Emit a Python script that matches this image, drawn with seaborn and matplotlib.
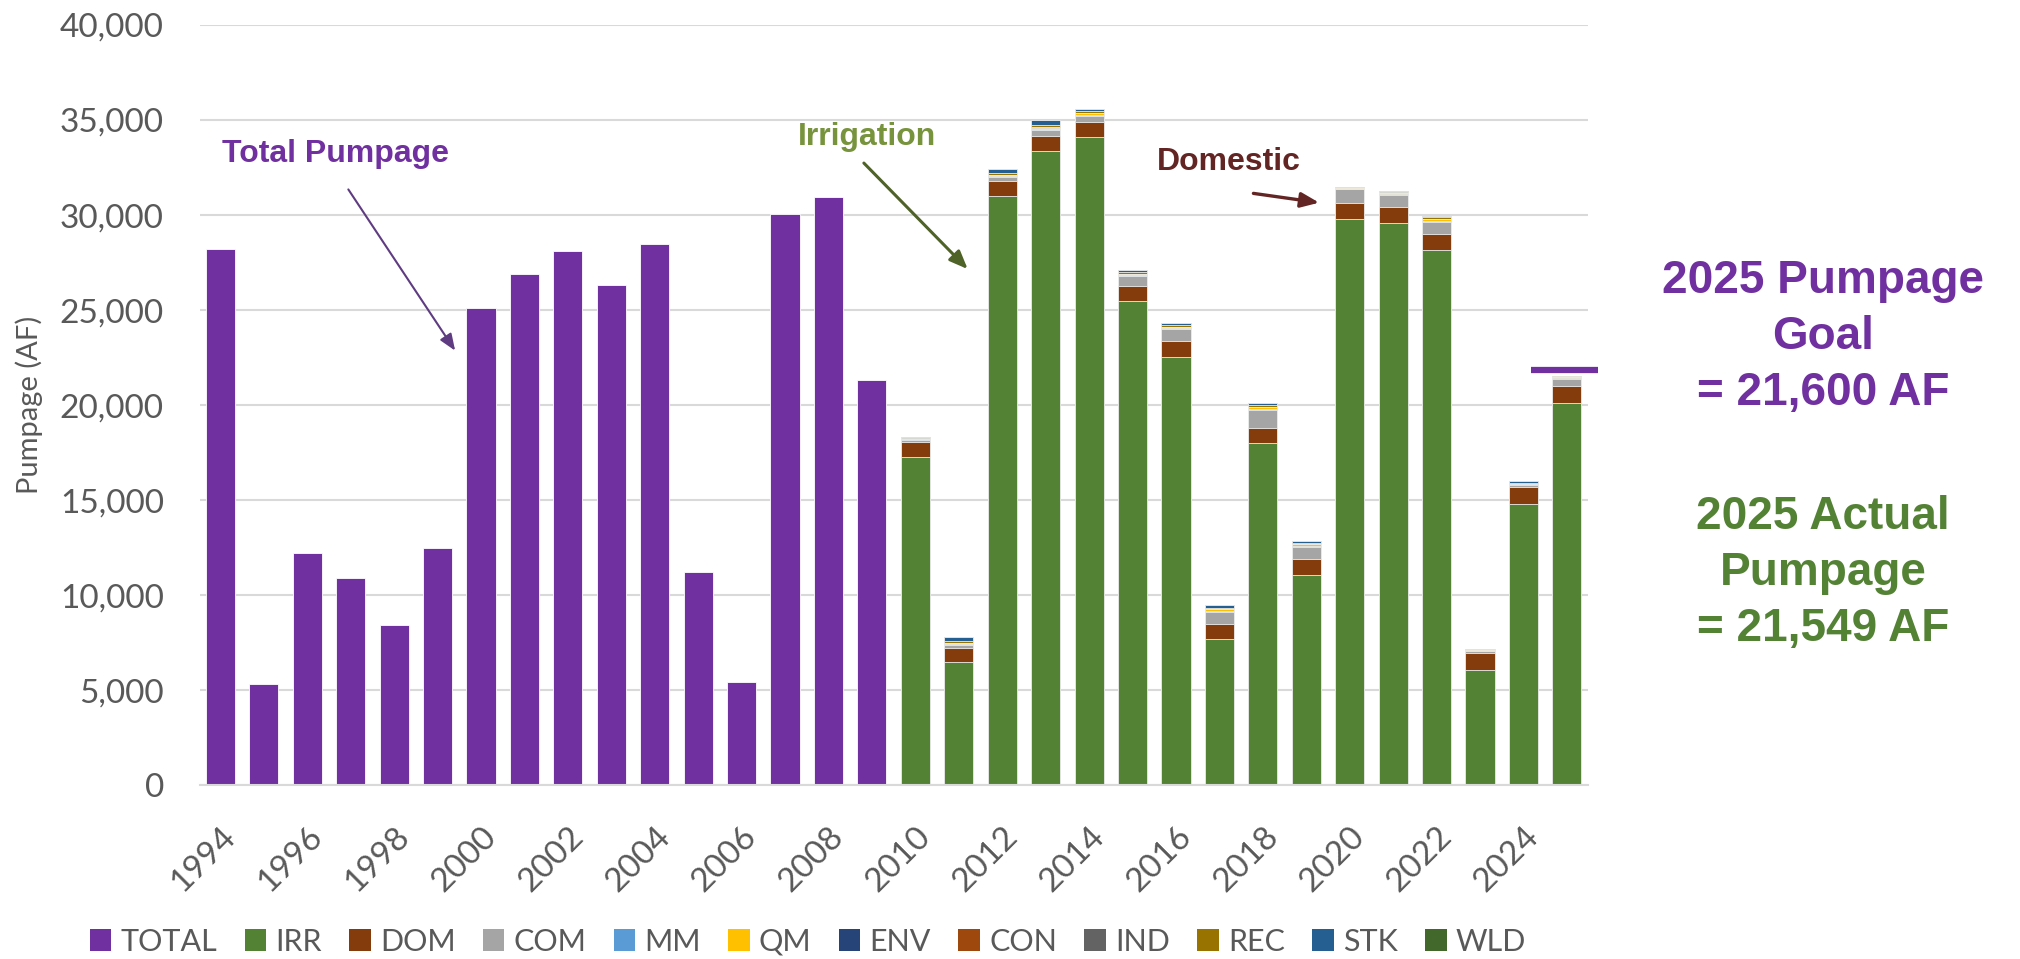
import numpy as np
import pandas as pd
import matplotlib.pyplot as plt
import seaborn as sns
from matplotlib.patches import Patch
from matplotlib.ticker import FuncFormatter

# -----------------------------------------------------------------------------
# DATOS (AF)
# -----------------------------------------------------------------------------
years = list(range(1994, 2026))

total_years = list(range(1994, 2010))
total_pumpage = [28200, 5300, 12200, 10900, 8400, 12500, 25100, 26900,
                 28100, 26300, 28500, 11200, 5400, 30050, 30950, 21300]

stack_years = list(range(2010, 2026))
irr = [17250, 6470, 31000, 33370, 34100, 25470, 22530, 7700,
       18000, 11050, 29790, 29580, 28160, 6050, 14790, 20100]
dom = [800, 730, 790, 790, 790, 790, 840, 800,
       800, 850, 840, 840, 840, 900, 890, 900]
com = [130, 170, 230, 330, 330, 540, 630, 600,
       940, 630, 740, 630, 630, 80, 100, 370]
mm = [10, 30, 30, 40, 40, 40, 40, 60, 60, 60, 20, 40, 40, 20, 40, 40]
qm = [40, 100, 60, 60, 110, 60, 90, 90, 100, 90, 20, 80, 130, 50, 50, 50]
env = [0, 0, 0, 40, 0, 0, 0, 0, 0, 0, 0, 0, 0, 0, 0, 0]
con = [0] * 16
ind = [0] * 16
rec = [50, 90, 110, 110, 90, 90, 90, 90, 80, 60, 30, 50, 80, 40, 30, 50]
stk = [20, 190, 180, 260, 140, 120, 110, 130, 120, 110, 60, 60, 80, 40, 80, 39]
wld = [0] * 16

goal_2025 = 21600
goal_line_level = 21820
actual_2025 = 21549

layer_names = ["IRR", "DOM", "COM", "MM", "QM", "ENV", "CON", "IND", "REC", "STK", "WLD"]
layer_values = [irr, dom, com, mm, qm, env, con, ind, rec, stk, wld]
colors = {
    "TOTAL": "#7030A0", "IRR": "#548235", "DOM": "#843C0C", "COM": "#A5A5A5",
    "MM": "#5B9BD5", "QM": "#FFC000", "ENV": "#264478", "CON": "#9E480E",
    "IND": "#636363", "REC": "#997300", "STK": "#255E91", "WLD": "#43682B",
}

PURPLE = "#7030A0"
GREEN = "#548235"
GREY_TXT = "#595959"

# -----------------------------------------------------------------------------
# FIGURA
# -----------------------------------------------------------------------------
sns.set_style("white")
plt.rcParams["font.family"] = ["Lato", "DejaVu Sans"]

fig = plt.figure(figsize=(20.2, 9.59), dpi=100)
ax = fig.add_axes([0.099, 0.1814, 0.687, 0.7925])

order = [str(y) for y in years]
bar_w = 0.67

# Bombeo total 1994-2009
df_total = pd.DataFrame({"year": [str(y) for y in total_years], "value": total_pumpage})
sns.barplot(data=df_total, x="year", y="value", order=order, color=colors["TOTAL"],
            saturation=1, width=bar_w, errorbar=None, edgecolor="white",
            linewidth=0.6, ax=ax)

# Barras apiladas 2010-2025 (acumulados, de arriba hacia abajo)
cum = np.cumsum(np.array(layer_values), axis=0)
for name, vals in reversed(list(zip(layer_names, cum))):
    df_layer = pd.DataFrame({"year": [str(y) for y in stack_years], "value": vals})
    sns.barplot(data=df_layer, x="year", y="value", order=order, color=colors[name],
                saturation=1, width=bar_w, errorbar=None, edgecolor="#EEEEEE",
                linewidth=0.6, ax=ax)

# Linea de meta 2025
idx25 = years.index(2025)
ax.plot([idx25 - 0.83, idx25 + 0.71], [goal_line_level, goal_line_level],
        color=PURPLE, linewidth=4.5, solid_capstyle="butt", clip_on=False, zorder=5)

# Ejes
ax.set_xlim(-0.47, len(years) - 0.52)
ax.set_ylim(0, 40000)
ax.set_yticks(np.arange(0, 40001, 5000))
ax.yaxis.set_major_formatter(FuncFormatter(lambda v, p: f"{v:,.0f}"))
ax.set_xticks(range(0, len(years), 2))
ax.set_xticklabels([str(y) for y in years[::2]], rotation=45, ha="right",
                   rotation_mode="anchor")
ax.tick_params(axis="y", labelsize=24, colors=GREY_TXT, length=0, pad=26)
ax.tick_params(axis="x", labelsize=24, colors=GREY_TXT, length=0, pad=26)
ax.set_xlabel("")
ax.set_ylabel("Pumpage (AF)", fontsize=21, color=GREY_TXT, labelpad=12)

ax.yaxis.grid(True, color="#D9D9D9", linewidth=1.5)
ax.set_axisbelow(True)
for s in ["left", "top", "right"]:
    ax.spines[s].set_visible(False)
ax.spines["bottom"].set_color("#D9D9D9")
ax.spines["bottom"].set_linewidth(1.5)

# Anotaciones
ann_font = dict(fontsize=23, fontweight="bold", family="Liberation Sans")
ax.text(2.66, 33200, "Total Pumpage", color=PURPLE, ha="center", va="center", **ann_font)
ax.annotate("", xy=(5.44, 22740), xytext=(2.91, 31470),
            arrowprops=dict(arrowstyle="-|>,head_length=1.0,head_width=0.4",
                            color="#5F3C82", lw=1.5))
ax.text(14.88, 34100, "Irrigation", color="#77933C", ha="center", va="center", **ann_font)
ax.annotate("", xy=(17.25, 27050), xytext=(14.77, 32840),
            arrowprops=dict(arrowstyle="-|>,head_length=1.1,head_width=0.45",
                            color="#4F6228", lw=2.2))
ax.text(23.21, 32800, "Domestic", color="#632523", ha="center", va="center", **ann_font)
ax.annotate("", xy=(25.36, 30630), xytext=(23.72, 31160),
            arrowprops=dict(arrowstyle="-|>,head_length=1.1,head_width=0.45",
                            color="#632523", lw=2.4))

# Texto lateral
side_font = dict(fontsize=33, fontweight="bold", family="Liberation Sans",
                 ha="center", va="center", linespacing=1.35)
fig.text(0.9025, 0.6486, f"2025 Pumpage\nGoal\n= {goal_2025:,} AF", color=PURPLE, **side_font)
fig.text(0.9025, 0.4025, f"2025 Actual\nPumpage\n= {actual_2025:,} AF", color=GREEN, **side_font)

# Leyenda
handles = [Patch(facecolor=colors[k], edgecolor="none") for k in ["TOTAL"] + layer_names]
fig.legend(handles, ["TOTAL"] + layer_names, loc="center", ncol=12,
           bbox_to_anchor=(0.400, 0.018), frameon=False, fontsize=22,
           handlelength=0.7, handleheight=0.75, handletextpad=0.3,
           columnspacing=0.9, labelcolor=GREY_TXT)

fig.savefig("out.png", dpi=100)
